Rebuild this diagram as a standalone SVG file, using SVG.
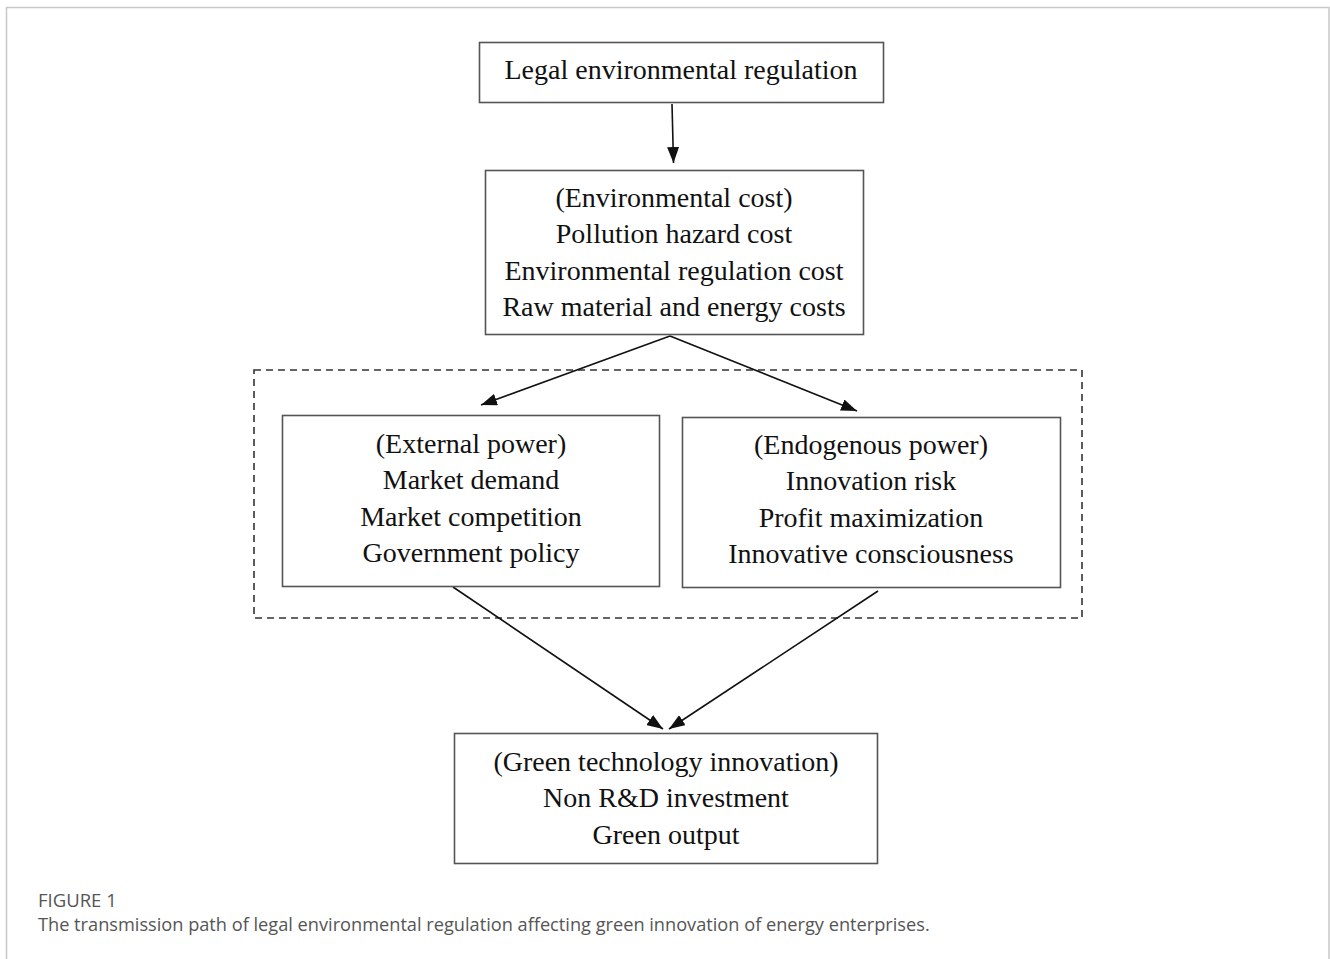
<svg xmlns="http://www.w3.org/2000/svg" width="1330" height="959" viewBox="0 0 1330 959">
<defs>
<style>
.box{fill:#fff;stroke:#555;stroke-width:1.6}
.t{font-family:"Liberation Serif","Times New Roman",serif;font-size:28px;fill:#111;text-anchor:middle}
.c{stroke:#111;stroke-width:1.6;fill:none}
.cap{font-family:"Open Sans","Noto Sans",sans-serif;fill:#555}
</style>
<marker id="ah2" viewBox="0 0 16 12" refX="16" refY="6" markerWidth="16" markerHeight="12" markerUnits="userSpaceOnUse" orient="auto">
<path d="M0,0 L16,6 L0,12 z" fill="#111"/>
</marker>
</defs>
<rect width="1330" height="959" fill="#fff"/>
<path d="M6.5,959 V7.5 H1329 V959" fill="none" stroke="#c8c8c8" stroke-width="1.5"/>
<rect id="group-frame" x="254" y="370" width="828" height="248" fill="none" stroke="#333" stroke-width="1.6" stroke-dasharray="7,5"/>
<g id="connectors">
<line class="c" x1="672" y1="104" x2="673.5" y2="163" marker-end="url(#ah2)"/>
<line class="c" x1="670" y1="336" x2="481" y2="405" marker-end="url(#ah2)"/>
<line class="c" x1="670" y1="336" x2="857" y2="411" marker-end="url(#ah2)"/>
<line class="c" x1="453" y1="587" x2="663" y2="729" marker-end="url(#ah2)"/>
<line class="c" x1="878" y1="591" x2="669" y2="729" marker-end="url(#ah2)"/>
</g>
<g id="n1">
<rect class="box" x="479.5" y="42.5" width="404" height="60"/>
<text class="t" x="681" y="79">Legal environmental regulation</text>
</g>
<g id="n2">
<rect class="box" x="485.5" y="170.5" width="378" height="164"/>
<text class="t" x="674" y="207">(Environmental cost)</text>
<text class="t" x="674" y="243">Pollution hazard cost</text>
<text class="t" x="674" y="280">Environmental regulation cost</text>
<text class="t" x="674" y="316">Raw material and energy costs</text>
</g>
<g id="n3">
<rect class="box" x="282.5" y="415.5" width="377" height="171"/>
<text class="t" x="471" y="453">(External power)</text>
<text class="t" x="471" y="489">Market demand</text>
<text class="t" x="471" y="526">Market competition</text>
<text class="t" x="471" y="562">Government policy</text>
</g>
<g id="n4">
<rect class="box" x="682.5" y="417.5" width="378" height="170"/>
<text class="t" x="871" y="454">(Endogenous power)</text>
<text class="t" x="871" y="490">Innovation risk</text>
<text class="t" x="871" y="527">Profit maximization</text>
<text class="t" x="871" y="563">Innovative consciousness</text>
</g>
<g id="n5">
<rect class="box" x="454.5" y="733.5" width="423" height="130"/>
<text class="t" x="666" y="771">(Green technology innovation)</text>
<text class="t" x="666" y="807">Non R&amp;D investment</text>
<text class="t" x="666" y="844">Green output</text>
</g>
<text class="cap" x="38" y="907" font-size="18.5">FIGURE 1</text>
<text class="cap" x="38" y="931" font-size="18.2" fill="#6a6a6a">The transmission path of legal environmental regulation affecting green innovation of energy enterprises.</text>
</svg>
